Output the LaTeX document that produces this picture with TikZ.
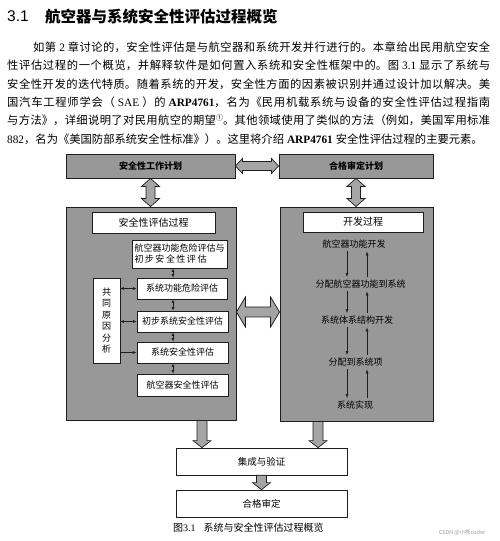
\documentclass[tikz,border=0pt]{standalone}
\usepackage{fontspec}
\setmainfont{Noto Sans CJK SC}
\newfontfamily\latserif{Liberation Serif}
\newfontfamily\latsans{Liberation Sans}
\usetikzlibrary{arrows.meta,calc}
\XeTeXlinebreaklocale "zh"
\XeTeXlinebreakskip=0pt plus 2pt
\newcommand\lt[1]{{\latserif #1}}
\newcommand\ltb[1]{{\latserif\bfseries #1}}
\newcommand\gapsp{\hspace{3pt}}
\definecolor{boxgray}{RGB}{152,152,152}
\definecolor{arrowgray}{RGB}{165,165,165}
\definecolor{edgecol}{RGB}{30,30,30}
\newcommand\dblV[5]{%
  \draw[blockarrow] let \p1=(#1), \p2=(#2) in
    (\x1,\y1) -- (\x1+#4,\y1-#5) -- (\x1+#3,\y1-#5) -- (\x1+#3,\y2+#5) -- (\x1+#4,\y2+#5) -- (\x1,\y2)
    -- (\x1-#4,\y2+#5) -- (\x1-#3,\y2+#5) -- (\x1-#3,\y1-#5) -- (\x1-#4,\y1-#5) -- cycle;}
\newcommand\dblH[5]{%
  \draw[blockarrow] let \p1=(#1), \p2=(#2) in
    (\x1,\y1) -- (\x1+#5,\y1+#4) -- (\x1+#5,\y1+#3) -- (\x2-#5,\y1+#3) -- (\x2-#5,\y1+#4) -- (\x2,\y1)
    -- (\x2-#5,\y1-#4) -- (\x2-#5,\y1-#3) -- (\x1+#5,\y1-#3) -- (\x1+#5,\y1-#4) -- cycle;}
\newcommand\sglV[5]{%
  \draw[blockarrow] let \p1=(#1), \p2=(#2) in
    (\x1-#3,\y1) -- (\x1+#3,\y1) -- (\x1+#3,\y2+#5) -- (\x1+#4,\y2+#5) -- (\x1,\y2)
    -- (\x1-#4,\y2+#5) -- (\x1-#3,\y2+#5) -- cycle;}
\tikzset{
  graybox/.style={draw=edgecol, fill=boxgray, line width=0.9pt, inner sep=0pt},
  whitebox/.style={draw=edgecol, fill=white, line width=0.7pt, inner sep=0pt, font=\fontsize{9}{11}\selectfont},
  blockarrow/.style={draw=edgecol, fill=arrowgray, line width=0.7pt},
  thinarrow/.style={-{Latex[length=4pt,width=3pt]}, line width=0.6pt, draw=edgecol},
  thindbl/.style={{Latex[length=3.5pt,width=3pt]}-{Latex[length=3.5pt,width=3pt]}, line width=0.6pt, draw=edgecol},
  lbl/.style={font=\fontsize{9}{11}\selectfont, inner sep=1pt}
}
\begin{document}
\begin{tikzpicture}[x=1pt,y=1pt]
\useasboundingbox (0,0) rectangle (499,541);
\fill[white] (0,0) rectangle (499,541);
% heading
\node[anchor=base west, inner sep=0pt, font=\latsans\fontsize{15.5}{18}\selectfont] (hnum) at (7,519.3) {3.1};
\node[anchor=base west, inner sep=0pt, font=\bfseries\fontsize{15.5}{18}\selectfont] (htitle) at (45,518.6) {航空器与系统安全性评估过程概览};
% body paragraph
\node[anchor=base west, inner sep=0pt] (para) at (7,489.7) {\parbox[t]{483pt}{\fontsize{11.3}{18.4}\selectfont
\hspace*{26pt}如第\gapsp\lt{2}\gapsp 章讨论的，安全性评估是与航空器和系统开发并行进行的。本章给出民用航空安全\linebreak
性评估过程的一个概览，并解释软件是如何置入系统和安全性框架中的。图\gapsp\lt{3.1}\gapsp 显示了系统与\linebreak
安全性开发的迭代特质。随着系统的开发，安全性方面的因素被识别并通过设计加以解决。美\linebreak
国汽车工程师学会（\gapsp\lt{SAE}\gapsp）的\gapsp\ltb{ARP4761}，名为《民用机载系统与设备的安全性评估过程指南\linebreak
与方法》，详细说明了对民用航空的期望\raisebox{4pt}{\fontsize{7}{8}\selectfont ①}。其他领域使用了类似的方法（例如，美国军用标准\linebreak
\lt{882}，名为《美国防部系统安全性标准》）。这里将介绍\gapsp\ltb{ARP4761}\gapsp 安全性评估过程的主要元素。}};
% top boxes
\node[graybox, minimum width=169pt, minimum height=24pt, font=\bfseries\fontsize{9}{11}\selectfont] (safeplan) at (150.5,375) {安全性工作计划};
\node[graybox, minimum width=154pt, minimum height=24pt, font=\bfseries\fontsize{9}{11}\selectfont] (certplan) at (356,375) {合格审定计划};
% big boxes
\node[graybox, minimum width=170pt, minimum height=213pt] (bigL) at (151,227.5) {};
\node[graybox, minimum width=153pt, minimum height=214pt] (bigR) at (356.5,227) {};
% left contents
\node[whitebox, minimum width=123pt, minimum height=21pt, font=\fontsize{10}{12}\selectfont] (safeproc) at (153.5,318.5) {安全性评估过程};
\node[whitebox, minimum width=95pt, minimum height=28pt, align=left, font=\fontsize{9}{11}\selectfont] (afha) at (179.5,287) {航空器功能危险评估与\\初\,步\,安\,全\,性\,评\,估};
\node[whitebox, minimum width=90pt, minimum height=21pt] (sfha) at (182,252.5) {系统功能危险评估};
\node[whitebox, minimum width=91pt, minimum height=21pt] (pssa) at (182.5,219.5) {初步系统安全性评估};
\node[whitebox, minimum width=91pt, minimum height=21pt] (ssa) at (182.5,188.5) {系统安全性评估};
\node[whitebox, minimum width=91pt, minimum height=22pt] (asa) at (182.5,156) {航空器安全性评估};
\node[whitebox, minimum width=27pt, minimum height=85pt, align=center, font=\fontsize{9}{11.5}\selectfont] (cca) at (106.5,220.5) {共\\同\\原\\因\\分\\析};
% right contents
\node[whitebox, minimum width=120pt, minimum height=20pt, font=\fontsize{10}{12}\selectfont] (devproc) at (363,319) {开发过程};
\node[lbl] (d1) at (354,297) {航空器功能开发};
\node[lbl] (d2) at (360.5,257) {分配航空器功能到系统};
\node[lbl] (d3) at (357,221) {系统体系结构开发};
\node[lbl] (d4) at (355.5,179) {分配到系统项};
\node[lbl] (d5) at (355,136) {系统实现};
% bottom boxes
\node[whitebox, minimum width=171pt, minimum height=27pt, font=\fontsize{9.5}{11}\selectfont] (integ) at (261.5,79.5) {集成与验证};
\node[whitebox, minimum width=171pt, minimum height=27pt, font=\fontsize{9.5}{11}\selectfont] (certbox) at (261.5,37.5) {合格审定};
% caption and watermark
\node[anchor=base west, inner sep=0pt, font=\fontsize{10}{12}\selectfont] (caption) at (173,9.5) {图\lt{3.1}\hspace{8pt}系统与安全性评估过程概览};
\node[inner sep=0pt, font=\fontsize{5.5}{7}\selectfont, text=black!40] (wm) at (462,8) {CSDN @小熊coder};
% block arrows
\dblH{safeplan.east}{certplan.west}{4.5pt}{7.5pt}{7pt}
\dblV{safeplan.south}{safeplan.south |- bigL.north}{4.5pt}{9pt}{8pt}
\dblV{certplan.south}{certplan.south |- bigR.north}{4.5pt}{9pt}{8pt}
\coordinate (mL) at ($(bigL.east)+(0,1.5)$);
\dblH{mL}{mL -| bigR.west}{5pt}{15pt}{9pt}
\coordinate (bl) at ($(bigL.south)+(51,0)$);
\coordinate (br) at ($(bigR.south)+(-38.5,0)$);
\sglV{bl}{bl |- integ.north}{5pt}{9pt}{7pt}
\sglV{br}{br |- integ.north}{5pt}{9pt}{7pt}
\sglV{integ.south}{certbox.north}{5pt}{9pt}{7pt}
% thin arrows left
\coordinate (vx) at (173,0);
\draw[thindbl] (vx |- afha.south) -- (vx |- sfha.north);
\draw[thindbl] (vx |- sfha.south) -- (vx |- pssa.north);
\draw[thindbl] (vx |- pssa.south) -- (vx |- ssa.north);
\draw[thindbl] (vx |- ssa.south) -- (vx |- asa.north);
\draw[thindbl] (cca.east |- sfha.west) -- (sfha.west);
\draw[thindbl] (cca.east |- pssa.west) -- (pssa.west);
\draw[thinarrow] (cca.east |- ssa.west) -- (ssa.west);
% thin arrows right
\coordinate (dx) at (347,0);
\coordinate (ux) at (367,0);
\foreach \a/\b in {d1/d2,d2/d3,d3/d4,d4/d5}{
  \draw[thinarrow, shorten <=2pt, shorten >=1.5pt] (dx |- \a.south) -- (dx |- \b.north);
  \draw[thinarrow, shorten <=1.5pt, shorten >=2pt] (ux |- \b.north) -- (ux |- \a.south);
}
\end{tikzpicture}
\end{document}
